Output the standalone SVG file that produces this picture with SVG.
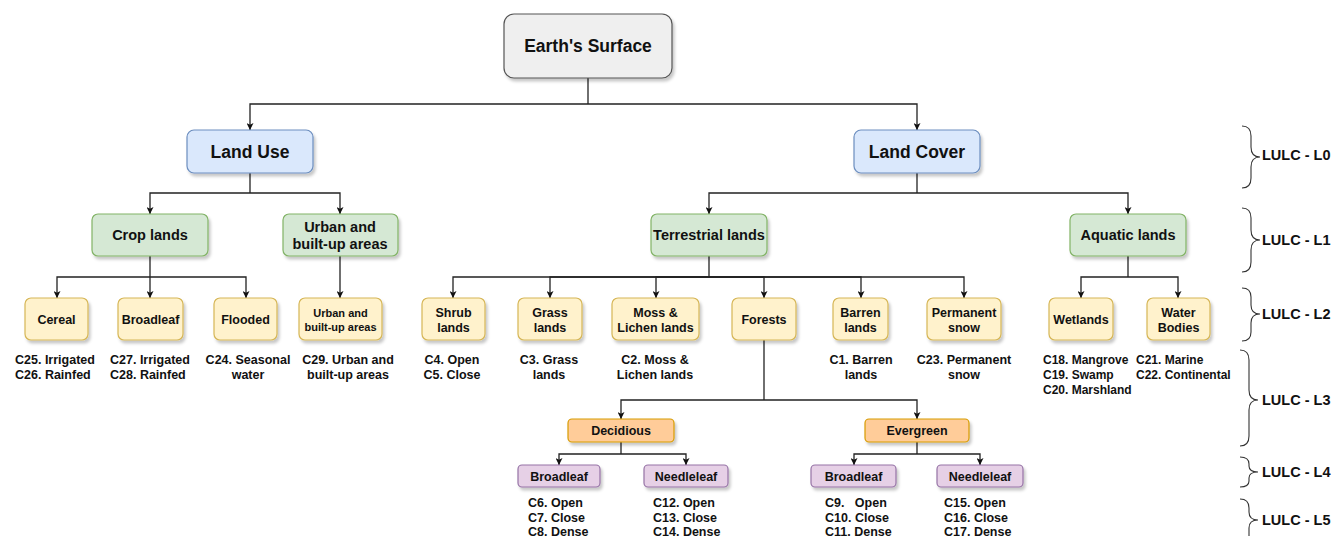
<svg xmlns="http://www.w3.org/2000/svg" width="1333" height="536" viewBox="0 0 1333 536">
<defs>
  <filter id="sh" x="-10%" y="-20%" width="130%" height="160%">
    <feDropShadow dx="2" dy="3" stdDeviation="1.5" flood-color="#000" flood-opacity="0.22"/>
  </filter>
  <marker id="ar" viewBox="0 0 10 10" refX="10" refY="5" markerWidth="7" markerHeight="7" markerUnits="userSpaceOnUse" orient="auto">
    <path d="M0,0 L10,5 L0,10 L2.5,5 Z" fill="#111"/>
  </marker>
</defs>
<style>
  text { font-family: "Liberation Sans", Arial, sans-serif; font-weight: bold; fill: #111; }
  .box { stroke-width: 1.2; filter: url(#sh); }
  .grey { fill: #efefef; stroke: #555; }
  .blue { fill: #dae8fc; stroke: #6c8ebf; }
  .green { fill: #d5e8d4; stroke: #82b366; }
  .yellow { fill: #fff2cc; stroke: #d6b656; }
  .orange { fill: #ffcc99; stroke: #d79b00; }
  .pink { fill: #e6d0e6; stroke: #9673a6; }
  .t0 { font-size: 17.5px; text-anchor: middle; }
  .t1 { font-size: 14.5px; text-anchor: middle; }
  .t2 { font-size: 12.5px; text-anchor: middle; }
  .t2s { font-size: 11px; text-anchor: middle; }
  .lab { font-size: 12.5px; }
  .labs { font-size: 12px; }
  .labc { font-size: 12.5px; text-anchor: middle; }
  .lvl { font-size: 14.5px; }
  .con path { fill: none; stroke: #222; stroke-width: 1.3; }
  .arr { marker-end: url(#ar); }
  .brace path { fill: none; stroke: #333; stroke-width: 1.1; }
</style>
<rect width="1333" height="536" fill="#fff"/>

<g id="connectors" class="con">
  <path d="M588 78 V104"/>
  <path class="arr" d="M588 104 H250 V130"/>
  <path class="arr" d="M588 104 H917 V130"/>
  <path d="M250 173 V193"/>
  <path class="arr" d="M250 193 H150 V214"/>
  <path class="arr" d="M250 193 H340 V214"/>
  <path d="M917 173 V193"/>
  <path class="arr" d="M917 193 H709 V214"/>
  <path class="arr" d="M917 193 H1128 V214"/>
  <path d="M150 256 V277"/>
  <path class="arr" d="M150 277 H57 V298"/>
  <path class="arr" d="M150 277 V298"/>
  <path class="arr" d="M150 277 H246 V298"/>
  <path class="arr" d="M340 256 V298"/>
  <path d="M709 256 V277"/>
  <path class="arr" d="M709 277 H453 V298"/>
  <path class="arr" d="M709 277 H550 V298"/>
  <path class="arr" d="M709 277 H656 V298"/>
  <path class="arr" d="M709 277 H764 V298"/>
  <path class="arr" d="M709 277 H861 V298"/>
  <path class="arr" d="M709 277 H964 V298"/>
  <path d="M1128 256 V277"/>
  <path class="arr" d="M1128 277 H1081 V298"/>
  <path class="arr" d="M1128 277 H1178 V298"/>
  <path d="M764 340 V400"/>
  <path class="arr" d="M764 400 H621 V419"/>
  <path class="arr" d="M764 400 H917 V419"/>
  <path d="M621 442 V454"/>
  <path class="arr" d="M621 454 H559 V465"/>
  <path class="arr" d="M621 454 H686 V465"/>
  <path d="M917 442 V454"/>
  <path class="arr" d="M917 454 H854 V465"/>
  <path class="arr" d="M917 454 H980 V465"/>
</g>

<g id="earth">
  <rect class="box grey" x="504" y="14" width="168" height="64" rx="10"/>
  <text class="t0" x="588" y="52">Earth's Surface</text>
</g>

<g id="landuse">
  <rect class="box blue" x="187" y="130" width="126" height="43" rx="7"/>
  <text class="t0" x="250" y="158">Land Use</text>
</g>
<g id="landcover">
  <rect class="box blue" x="854" y="130" width="126" height="43" rx="7"/>
  <text class="t0" x="917" y="158">Land Cover</text>
</g>

<g id="croplands">
  <rect class="box green" x="92" y="214" width="116" height="42" rx="6"/>
  <text class="t1" x="150" y="240">Crop lands</text>
</g>
<g id="urban1">
  <rect class="box green" x="283" y="214" width="115" height="42" rx="6"/>
  <text class="t1" x="340" y="232">Urban and</text>
  <text class="t1" x="340" y="249">built-up areas</text>
</g>
<g id="terrestrial">
  <rect class="box green" x="651" y="214" width="116" height="42" rx="6"/>
  <text class="t1" x="709" y="240">Terrestrial lands</text>
</g>
<g id="aquatic">
  <rect class="box green" x="1070" y="214" width="116" height="42" rx="6"/>
  <text class="t1" x="1128" y="240">Aquatic lands</text>
</g>

<g id="cereal">
  <rect class="box yellow" x="25" y="298" width="63" height="42" rx="6"/>
  <text class="t2" x="56.5" y="323.5">Cereal</text>
  <text class="lab" x="15" y="363.5">C25. Irrigated</text>
  <text class="lab" x="15" y="378.5">C26. Rainfed</text>
</g>
<g id="broadleaf-crop">
  <rect class="box yellow" x="118" y="298" width="65" height="42" rx="6"/>
  <text class="t2" x="150.5" y="323.5">Broadleaf</text>
  <text class="lab" x="110" y="363.5">C27. Irrigated</text>
  <text class="lab" x="110" y="378.5">C28. Rainfed</text>
</g>
<g id="flooded">
  <rect class="box yellow" x="214" y="298" width="63" height="42" rx="6"/>
  <text class="t2" x="245.5" y="323.5">Flooded</text>
  <text class="labc" x="248" y="363.5">C24. Seasonal</text>
  <text class="labc" x="248" y="378.5">water</text>
</g>
<g id="urban2">
  <rect class="box yellow" x="299" y="298" width="83" height="42" rx="6"/>
  <text class="t2s" x="340.5" y="317">Urban and</text>
  <text class="t2s" x="340.5" y="331">built-up areas</text>
  <text class="labc" x="348" y="363.5">C29. Urban and</text>
  <text class="labc" x="348" y="378.5">built-up areas</text>
</g>
<g id="shrub">
  <rect class="box yellow" x="422" y="298" width="63" height="42" rx="6"/>
  <text class="t2" x="453.5" y="316.5">Shrub</text>
  <text class="t2" x="453.5" y="331.5">lands</text>
  <text class="labc" x="452" y="363.5">C4. Open</text>
  <text class="labc" x="452" y="378.5">C5. Close</text>
</g>
<g id="grass">
  <rect class="box yellow" x="518" y="298" width="64" height="42" rx="6"/>
  <text class="t2" x="550" y="316.5">Grass</text>
  <text class="t2" x="550" y="331.5">lands</text>
  <text class="labc" x="549" y="363.5">C3. Grass</text>
  <text class="labc" x="549" y="378.5">lands</text>
</g>
<g id="moss">
  <rect class="box yellow" x="612" y="298" width="87" height="42" rx="6"/>
  <text class="t2" x="655.5" y="316.5">Moss &amp;</text>
  <text class="t2" x="655.5" y="331.5">Lichen lands</text>
  <text class="labc" x="655" y="363.5">C2. Moss &amp;</text>
  <text class="labc" x="655" y="378.5">Lichen lands</text>
</g>
<g id="forests">
  <rect class="box yellow" x="732" y="298" width="64" height="42" rx="6"/>
  <text class="t2" x="764" y="323.5">Forests</text>
</g>
<g id="barren">
  <rect class="box yellow" x="833" y="298" width="55" height="42" rx="6"/>
  <text class="t2" x="860.5" y="316.5">Barren</text>
  <text class="t2" x="860.5" y="331.5">lands</text>
  <text class="labc" x="861" y="363.5">C1. Barren</text>
  <text class="labc" x="861" y="378.5">lands</text>
</g>
<g id="permanent">
  <rect class="box yellow" x="927" y="298" width="74" height="42" rx="6"/>
  <text class="t2" x="964" y="316.5">Permanent</text>
  <text class="t2" x="964" y="331.5">snow</text>
  <text class="labc" x="964" y="363.5">C23. Permanent</text>
  <text class="labc" x="964" y="378.5">snow</text>
</g>
<g id="wetlands">
  <rect class="box yellow" x="1049" y="298" width="64" height="42" rx="6"/>
  <text class="t2" x="1081" y="323.5">Wetlands</text>
  <text class="labs" x="1043" y="363.5">C18. Mangrove</text>
  <text class="labs" x="1043" y="378.5">C19. Swamp</text>
  <text class="labs" x="1043" y="393.5">C20. Marshland</text>
</g>
<g id="waterbodies">
  <rect class="box yellow" x="1147" y="298" width="63" height="42" rx="6"/>
  <text class="t2" x="1178.5" y="316.5">Water</text>
  <text class="t2" x="1178.5" y="331.5">Bodies</text>
  <text class="labs" x="1136" y="363.5">C21. Marine</text>
  <text class="labs" x="1136" y="378.5">C22. Continental</text>
</g>

<g id="decidious">
  <rect class="box orange" x="568" y="419" width="106" height="23" rx="4"/>
  <text class="t2" x="621" y="435">Decidious</text>
</g>
<g id="evergreen">
  <rect class="box orange" x="865" y="419" width="104" height="23" rx="4"/>
  <text class="t2" x="917" y="435">Evergreen</text>
</g>

<g id="dec-broadleaf">
  <rect class="box pink" x="518" y="465" width="82" height="22" rx="4"/>
  <text class="t2" x="559" y="480.5">Broadleaf</text>
  <text class="lab" x="528" y="506.5">C6. Open</text>
  <text class="lab" x="528" y="521.5">C7. Close</text>
  <text class="lab" x="528" y="535.5">C8. Dense</text>
</g>
<g id="dec-needleleaf">
  <rect class="box pink" x="644" y="465" width="84" height="22" rx="4"/>
  <text class="t2" x="686" y="480.5">Needleleaf</text>
  <text class="lab" x="653" y="506.5">C12. Open</text>
  <text class="lab" x="653" y="521.5">C13. Close</text>
  <text class="lab" x="653" y="535.5">C14. Dense</text>
</g>
<g id="ev-broadleaf">
  <rect class="box pink" x="811" y="465" width="85" height="22" rx="4"/>
  <text class="t2" x="853.5" y="480.5">Broadleaf</text>
  <text class="lab" x="825" y="506.5" xml:space="preserve">C9.   Open</text>
  <text class="lab" x="825" y="521.5">C10. Close</text>
  <text class="lab" x="825" y="535.5">C11. Dense</text>
</g>
<g id="ev-needleleaf">
  <rect class="box pink" x="937" y="465" width="86" height="22" rx="4"/>
  <text class="t2" x="980" y="480.5">Needleleaf</text>
  <text class="lab" x="944" y="506.5">C15. Open</text>
  <text class="lab" x="944" y="521.5">C16. Close</text>
  <text class="lab" x="944" y="535.5">C17. Dense</text>
</g>

<g id="levels" class="brace">
  <path d="M1242 126 Q1251 126 1251 136 V147 Q1251 157 1260 157 Q1251 157 1251 167 V178 Q1251 188 1242 188"/>
  <text class="lvl" x="1262" y="160">LULC - L0</text>
  <path d="M1242 208 Q1251 208 1251 218 V230 Q1251 240 1260 240 Q1251 240 1251 250 V262 Q1251 272 1242 272"/>
  <text class="lvl" x="1262" y="245">LULC - L1</text>
  <path d="M1242 288 Q1251 288 1251 297 V305 Q1251 314 1260 314 Q1251 314 1251 323 V332 Q1251 341 1242 341"/>
  <text class="lvl" x="1262" y="319">LULC - L2</text>
  <path d="M1240 350 Q1249 350 1249 360 V390 Q1249 400 1258 400 Q1249 400 1249 410 V436 Q1249 446 1240 446"/>
  <text class="lvl" x="1262" y="405">LULC - L3</text>
  <path d="M1240 457 Q1249 457 1249 464 V466 Q1249 472 1258 472 Q1249 472 1249 478 V481 Q1249 487 1240 487"/>
  <text class="lvl" x="1262" y="477">LULC - L4</text>
  <path d="M1240 499 Q1249 499 1249 508 V512 Q1249 520 1258 520 Q1249 520 1249 528 V536"/>
  <text class="lvl" x="1262" y="525">LULC - L5</text>
</g>
</svg>
